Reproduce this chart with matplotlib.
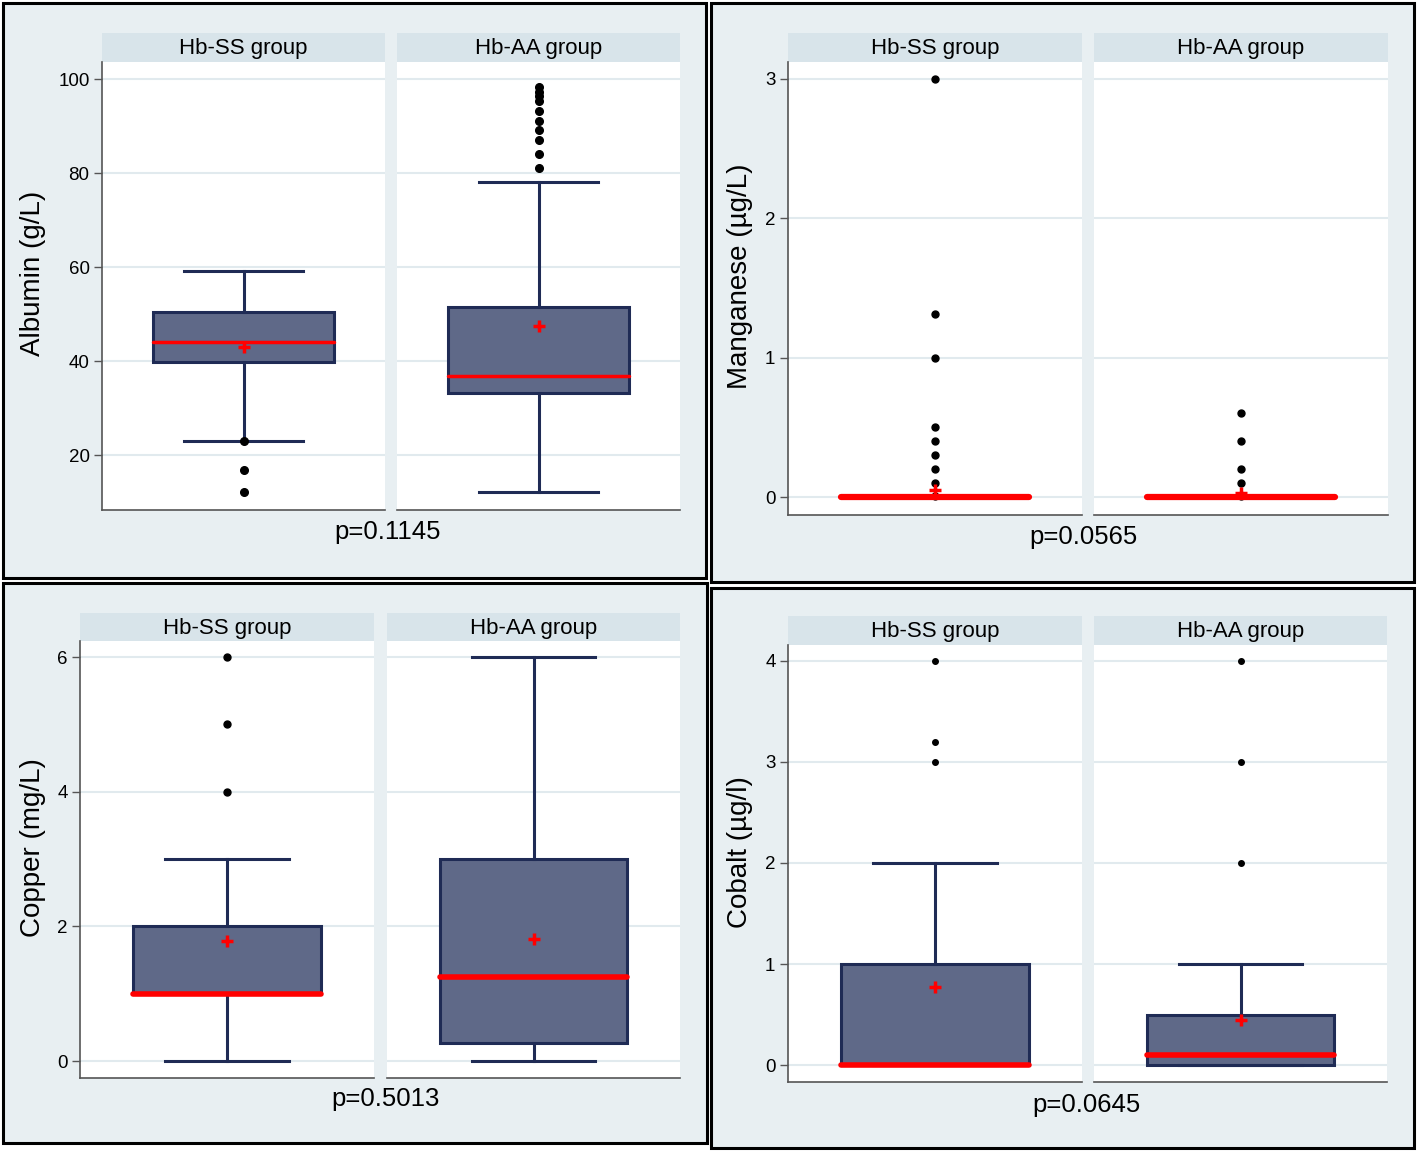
import matplotlib
matplotlib.use("Agg")
import matplotlib.pyplot as plt
from matplotlib.patches import Rectangle

plt.rcParams['font.family'] = ['Liberation Sans', 'DejaVu Sans']

# ---------------- data ----------------
groups = ["Hb-SS group", "Hb-AA group"]

albumin_q1 = [39.8, 33.2]
albumin_med = [44.0, 36.8]
albumin_q3 = [50.4, 51.5]
albumin_whislo = [23.0, 12.1]
albumin_whishi = [59.1, 78.1]
albumin_mean = [43.0, 47.4]
albumin_fliers = [[23.0, 16.8, 12.1],
                  [98.4, 97.3, 96.4, 95.3, 93.2, 91.1, 89.1, 87.0, 84.0, 81.1]]
albumin_ticks = [20, 40, 60, 80, 100]
albumin_p = "p=0.1145"

manganese_q1 = [0.0, 0.0]
manganese_med = [0.0, 0.0]
manganese_q3 = [0.0, 0.0]
manganese_whislo = [0.0, 0.0]
manganese_whishi = [0.0, 0.0]
manganese_mean = [0.05, 0.03]
manganese_fliers = [[3.0, 1.31, 1.0, 0.5, 0.4, 0.3, 0.2, 0.1, 0.01],
                    [0.6, 0.4, 0.2, 0.1, 0.01]]
manganese_ticks = [0, 1, 2, 3]
manganese_p = "p=0.0565"

copper_q1 = [1.0, 0.27]
copper_med = [1.0, 1.25]
copper_q3 = [2.0, 3.0]
copper_whislo = [0.0, 0.0]
copper_whishi = [3.0, 6.0]
copper_mean = [1.78, 1.81]
copper_fliers = [[6.0, 5.0, 4.0], []]
copper_ticks = [0, 2, 4, 6]
copper_p = "p=0.5013"

cobalt_q1 = [0.0, 0.0]
cobalt_med = [0.0, 0.1]
cobalt_q3 = [1.0, 0.5]
cobalt_whislo = [0.0, 0.0]
cobalt_whishi = [2.0, 1.0]
cobalt_mean = [0.77, 0.45]
cobalt_fliers = [[4.0, 3.2, 3.0], [4.0, 3.0, 2.0]]
cobalt_ticks = [0, 1, 2, 3, 4]
cobalt_p = "p=0.0645"

# ---------------- layout / style ----------------
W, H = 1418, 1151
fig = plt.figure(figsize=(W / 100, H / 100), dpi=100)

BG = "#e8eff2"
STRIP = "#d8e4ea"
GRID = "#e1eaee"
BOXFACE = "#5f6988"
BOXEDGE = "#1f2b55"
RED = "#ff0000"


def frect(x0, y0, x1, y1):
    return [x0 / W, 1 - y1 / H, (x1 - x0) / W, (y1 - y0) / H]


def make_panel(frame, facets_x, strip_y, plot_y, ylim, ticks, ylabel, ylabel_xy,
               ptext, ptext_xy, q1, med, q3, wlo, whi, mean, fliers,
               med_lw, flier_ms):
    fx0, fy0, fx1, fy1 = frame
    fig.patches.append(Rectangle((fx0 / W, 1 - fy1 / H), (fx1 - fx0) / W, (fy1 - fy0) / H,
                                 transform=fig.transFigure, facecolor=BG,
                                 edgecolor="black", lw=2.2, zorder=-5))
    for i, (x0, x1) in enumerate(facets_x):
        # strip
        sax = fig.add_axes(frect(x0, strip_y[0], x1, strip_y[1]))
        sax.set_facecolor(STRIP)
        sax.set_xticks([]); sax.set_yticks([])
        for s in sax.spines.values():
            s.set_visible(False)
        sax.text(0.5, 0.45, groups[i], ha="center", va="center", fontsize=16,
                 transform=sax.transAxes)
        # plot
        ax = fig.add_axes(frect(x0, plot_y[0], x1, plot_y[1]))
        ax.set_facecolor("white")
        stats = [dict(q1=q1[i], med=med[i], q3=q3[i], whislo=wlo[i], whishi=whi[i],
                      mean=mean[i], fliers=fliers[i], label=groups[i])]
        ax.bxp(stats, positions=[0], widths=0.64, capwidths=0.42, patch_artist=True,
               showmeans=True, showfliers=True,
               boxprops=dict(facecolor=BOXFACE, edgecolor=BOXEDGE, lw=2.2),
               whiskerprops=dict(color=BOXEDGE, lw=2.2),
               capprops=dict(color=BOXEDGE, lw=2.2),
               medianprops=dict(color=RED, lw=med_lw, solid_capstyle="round"),
               meanprops=dict(marker="+", markeredgecolor=RED, markersize=9,
                              markeredgewidth=2.5),
               flierprops=dict(marker="o", markerfacecolor="black",
                               markeredgecolor="black", markersize=flier_ms))
        ax.set_xlim(-0.5, 0.5)
        ax.set_ylim(*ylim)
        ax.set_yticks(ticks)
        ax.yaxis.grid(True, color=GRID, lw=1.5)
        ax.set_axisbelow(True)
        ax.set_xticks([])
        ax.spines["top"].set_visible(False)
        ax.spines["right"].set_visible(False)
        ax.spines["bottom"].set_color("#555555")
        ax.spines["bottom"].set_linewidth(1.2)
        if i == 0:
            ax.spines["left"].set_color("#555555")
            ax.spines["left"].set_linewidth(1.2)
            ax.tick_params(axis="y", direction="out", length=6, width=1,
                           color="#555555", labelsize=13.5, pad=3)
        else:
            ax.spines["left"].set_visible(False)
            ax.tick_params(axis="y", length=0, labelleft=False)
    fig.text(ylabel_xy[0] / W, 1 - ylabel_xy[1] / H, ylabel, rotation=90,
             ha="center", va="center", fontsize=20)
    fig.text(ptext_xy[0] / W, 1 - ptext_xy[1] / H, ptext, ha="center", va="center",
             fontsize=18.5)


make_panel((3, 3, 706, 578), [(102, 385), (397, 680)], (33, 62), (62, 510),
           (8.30, 103.62), albumin_ticks, "Albumin (g/L)", (33, 273),
           albumin_p, (388, 532), albumin_q1, albumin_med, albumin_q3,
           albumin_whislo, albumin_whishi, albumin_mean, albumin_fliers, 2.5, 5.5)

make_panel((711, 3, 1414, 582), [(788, 1082), (1094, 1388)], (33, 62), (62, 515),
           (-0.129, 3.122), manganese_ticks, "Manganese (µg/L)", (740, 276),
           manganese_p, (1083, 537), manganese_q1, manganese_med, manganese_q3,
           manganese_whislo, manganese_whishi, manganese_mean, manganese_fliers, 4.5, 5.0)

make_panel((3, 583, 707, 1143), [(80, 374), (387, 680)], (613, 641), (641, 1078),
           (-0.252, 6.238), copper_ticks, "Copper (mg/L)", (33, 848),
           copper_p, (386, 1099), copper_q1, copper_med, copper_q3,
           copper_whislo, copper_whishi, copper_mean, copper_fliers, 4.0, 5.0)

make_panel((711, 588, 1414, 1148), [(788, 1082), (1094, 1387)], (616, 645), (645, 1082),
           (-0.168, 4.158), cobalt_ticks, "Cobalt (µg/l)", (740, 852),
           cobalt_p, (1086, 1105), cobalt_q1, cobalt_med, cobalt_q3,
           cobalt_whislo, cobalt_whishi, cobalt_mean, cobalt_fliers, 4.0, 4.0)

fig.savefig("out.png", dpi=100, facecolor="white")
